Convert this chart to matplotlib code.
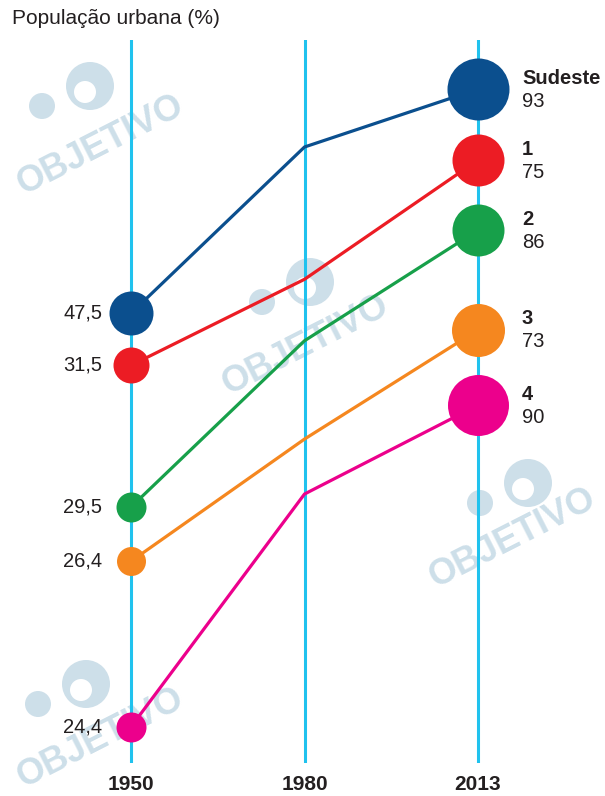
import matplotlib
matplotlib.use("Agg")
import matplotlib.pyplot as plt
from matplotlib.patches import Circle

plt.rcParams['font.family'] = ['Liberation Sans', 'DejaVu Sans']

# ---- data ----
years = ["1950", "1980", "2013"]
regions = ["Sudeste", "1", "2", "3", "4"]
values_1950 = ["47,5", "31,5", "29,5", "26,4", "24,4"]
values_2013 = ["93", "75", "86", "73", "90"]
# vertical level of each point on the schematic (0 = bottom of guides, 100 = top)
level_1950 = [62.2, 55.0, 35.4, 27.9, 5.0]
level_1980 = [85.2, 66.9, 58.4, 44.8, 37.2]
level_2013 = [93.2, 83.4, 73.7, 59.9, 49.5]
title = "População urbana (%)"

# ---- style ----
colors = ["#0b4f8e", "#ec1c24", "#17a04a", "#f5871f", "#ec008c"]
radius_1950 = [22, 18, 15, 14.5, 15]     # px
radius_2013 = [31, 26, 26, 26.5, 30.5]   # px
guide_color = "#20c2ee"
text_color = "#231f20"
wm_color = "#cddfe9"

W, H, DPI = 605, 796, 100
fig = plt.figure(figsize=(W / DPI, H / DPI), dpi=DPI)

# background layer for watermarks (pixel coordinates)
bg = fig.add_axes([0, 0, 1, 1], zorder=-1)
bg.set_xlim(0, W)
bg.set_ylim(H, 0)
bg.axis("off")

def watermark(tx, ty, lx, ly):
    bg.text(tx, ty, "OBJETIVO", fontsize=26, fontweight="heavy", color=wm_color,
            rotation=27, ha="center", va="center", clip_on=True)
    bg.add_patch(Circle((lx, ly), 24, color=wm_color, lw=0))
    bg.add_patch(Circle((lx - 5, ly + 6), 11, color="white", lw=0))
    bg.add_patch(Circle((lx - 48, ly + 20), 13, color=wm_color, lw=0))

for (tx, ty, lx, ly) in [(100, 145, 90, 86), (305, 345, 310, 282),
                         (512, 538, 528, 483), (100, 738, 86, 684)]:
    watermark(tx, ty, lx, ly)

px_per_unit = 173.5
x0_px = 131
top_px, bot_px = 40, 763
ax = fig.add_axes([0, (H - bot_px) / H, 1, (bot_px - top_px) / H])
ax.set_xlim(-x0_px / px_per_unit, (W - x0_px) / px_per_unit)
ax.set_ylim(0, 100)
ax.axis("off")
ax.patch.set_alpha(0)

# guides
xs = list(range(len(years)))
for x in xs:
    ax.axvline(x, ymin=0, ymax=1, color=guide_color, lw=2.2, zorder=2)

# series
for i, name in enumerate(regions):
    ys = [level_1950[i], level_1980[i], level_2013[i]]
    ax.plot(xs, ys, color=colors[i], lw=2.3, zorder=3, solid_capstyle="round")
    ax.scatter([0], [level_1950[i]], s=(2 * radius_1950[i] * 0.72) ** 2,
               color=colors[i], zorder=4, linewidths=0)
    ax.scatter([2], [level_2013[i]], s=(2 * radius_2013[i] * 0.72) ** 2,
               color=colors[i], zorder=4, linewidths=0)
    # left value labels
    ax.annotate(values_1950[i], (0, level_1950[i]), xytext=(-29 * 0.72, 0),
                textcoords="offset points", ha="right", va="center",
                fontsize=14.5, color=text_color)
    # right labels
    ax.annotate(name, (2, level_2013[i]), xytext=(44 * 0.72, 11 * 0.72),
                textcoords="offset points", ha="left", va="center",
                fontsize=14.5, fontweight="bold", color=text_color)
    ax.annotate(values_2013[i], (2, level_2013[i]), xytext=(44 * 0.72, -12 * 0.72),
                textcoords="offset points", ha="left", va="center",
                fontsize=14.5, color=text_color)

# year labels
for x, yr in zip(xs, years):
    ax.annotate(yr, (x, 0), xytext=(0, -22 * 0.72), textcoords="offset points",
                ha="center", va="center", fontsize=15, fontweight="bold",
                color=text_color, annotation_clip=False)

fig.text(12 / W, 1 - 18 / H, title, fontsize=15, color=text_color,
         ha="left", va="center")

fig.savefig("out.png", dpi=DPI)
